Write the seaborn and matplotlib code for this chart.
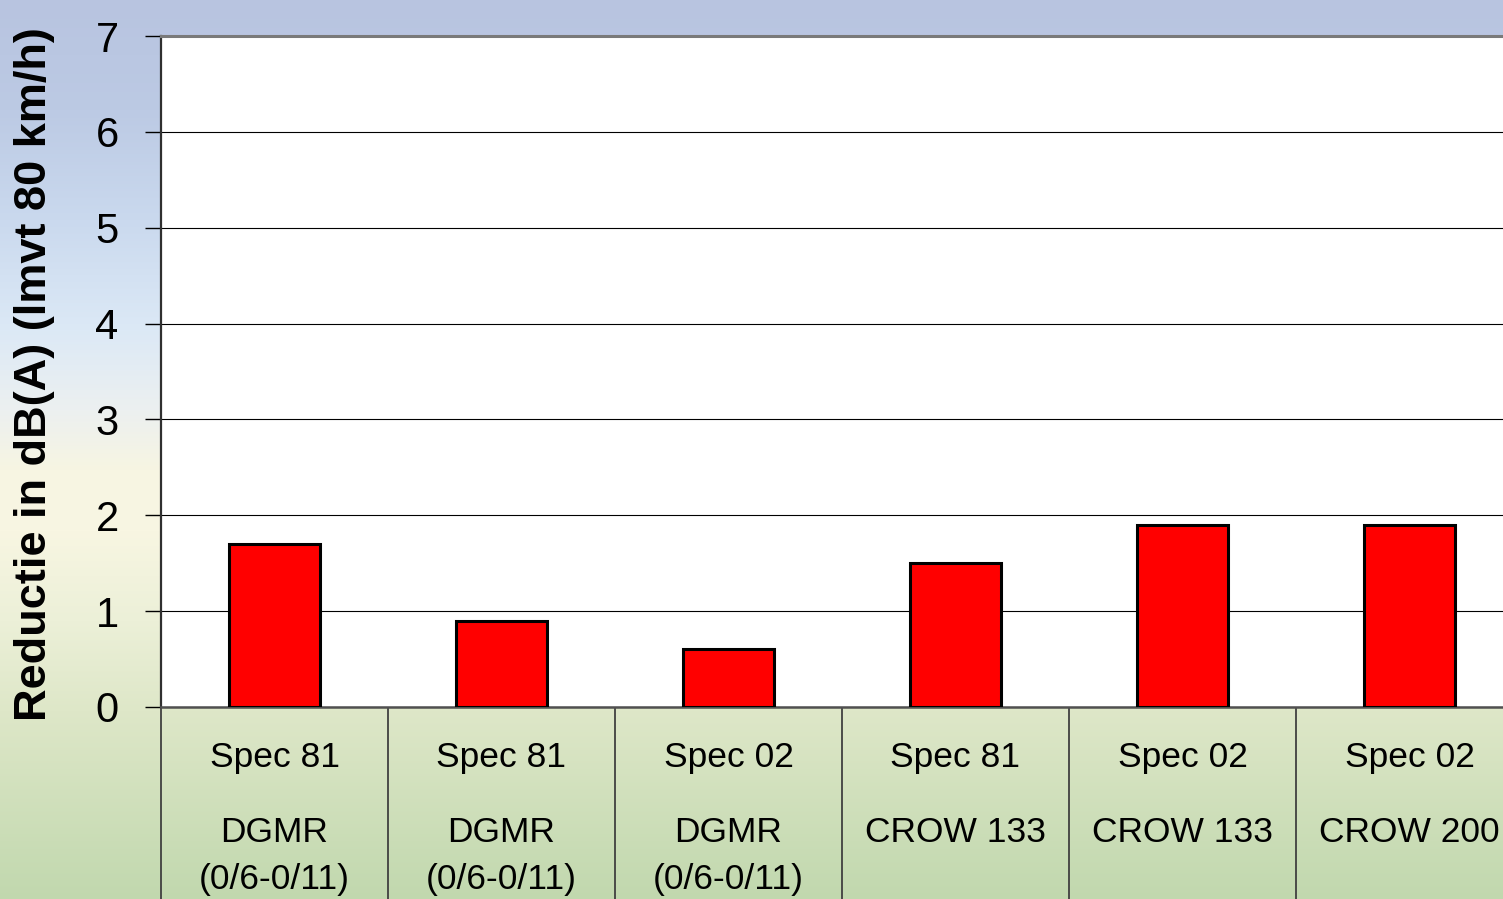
import numpy as np
import pandas as pd
import seaborn as sns
import matplotlib.pyplot as plt
from matplotlib import colors as mcolors
from matplotlib import transforms

# data
specs = ["Spec 81", "Spec 81", "Spec 02", "Spec 81", "Spec 02", "Spec 02"]
methods = ["DGMR", "DGMR", "DGMR", "CROW 133", "CROW 133", "CROW 200"]
gradings = ["(0/6-0/11)", "(0/6-0/11)", "(0/6-0/11)", "", "", ""]
values = [1.7, 0.9, 0.6, 1.5, 1.9, 1.9]
y_ticks = [0, 1, 2, 3, 4, 5, 6, 7]
y_label = "Reductie in dB(A) (lmvt 80 km/h)"

sns.set_style("white")
plt.rcParams['font.family'] = ['Liberation Sans', 'DejaVu Sans']
plt.rcParams['text.color'] = 'black'
plt.rcParams['ytick.color'] = 'black'
plt.rcParams['xtick.color'] = 'black'

W, H = 1503, 899
fig = plt.figure(figsize=(W / 100, H / 100), dpi=100)

# background gradient (blue top -> cream middle -> green bottom)
stops = [(0, "#b8c4e0"), (110, "#bccae4"), (220, "#cad9ee"), (330, "#dce9f6"),
         (410, "#ecf0f0"), (470, "#f7f5e2"), (530, "#f8f6e2"), (620, "#ecf0d8"),
         (710, "#dee7c8"), (899, "#c1d8ae")]
rows = np.arange(H)
sp = [s[0] for s in stops]
rgb = np.array([mcolors.to_rgb(s[1]) for s in stops])
grad = np.stack([np.interp(rows, sp, rgb[:, k]) for k in range(3)], axis=1)
grad = np.repeat(grad[:, None, :], 4, axis=1)
bg = fig.add_axes([0, 0, 1, 1], zorder=-10)
bg.imshow(grad, aspect="auto", extent=[0, 1, 0, 1], origin="upper")
bg.axis("off")

# plot area: left 161px, bottom 707px, top 36px, 227px per category
left, bottom, top, cat_w = 161, 707, 36, 227
ax = fig.add_axes([left / W, 1 - bottom / H, 6 * cat_w / W, (bottom - top) / H])
ax.set_facecolor("white")

df = pd.DataFrame({"pos": range(len(values)), "value": values})
sns.barplot(data=df, x="pos", y="value", ax=ax, color="#ff0000", saturation=1,
            edgecolor="black", linewidth=2.2, width=0.4, zorder=3)

ax.set_xlim(-0.5, len(values) - 0.5)
ax.set_ylim(0, 7)
ax.set_yticks(y_ticks)
ax.set_yticklabels([str(t) for t in y_ticks], fontsize=30)
ax.grid(axis="y", color="black", linewidth=0.8, zorder=0)
ax.set_axisbelow(True)
ax.tick_params(axis="y", direction="out", length=11.5, width=1, color="black",
               labelcolor="black", pad=19, left=True)
ax.set_xlabel("")
ax.set_ylabel("")

# category dividers as long minor ticks going down into the label area
ax.set_xticks([])
ax.set_xticks(np.arange(-0.5, len(values)), minor=True)
ax.tick_params(axis="x", which="minor", direction="out", length=150, width=1.3,
               color="#404040", bottom=True)

ax.spines["right"].set_visible(False)
ax.spines["left"].set_color("#303030")
ax.spines["left"].set_linewidth(1.6)
ax.spines["bottom"].set_color("#505050")
ax.spines["bottom"].set_linewidth(1.8)
ax.spines["top"].set_color("#7a7a7a")
ax.spines["top"].set_linewidth(2.2)

# category labels (two levels)
tr = transforms.blended_transform_factory(ax.transData, ax.transAxes)
ah = bottom - top
for i in range(len(values)):
    ax.text(i, -(758 - bottom) / ah, specs[i], transform=tr, ha="center",
            va="center", fontsize=25.5, color="black", clip_on=False)
    ax.text(i, -(833 - bottom) / ah, methods[i], transform=tr, ha="center",
            va="center", fontsize=25.5, color="black", clip_on=False)
    if gradings[i]:
        ax.text(i, -(880 - bottom) / ah, gradings[i], transform=tr, ha="center",
                va="center", fontsize=25.5, color="black", clip_on=False)

fig.text(35 / W, 1 - 721 / H, y_label, rotation=90, ha="center", va="bottom",
         fontsize=32.5, fontweight="bold", color="black")

fig.savefig("out.png", dpi=100)
